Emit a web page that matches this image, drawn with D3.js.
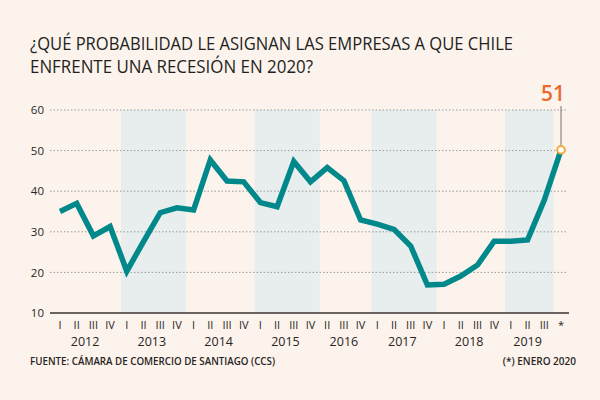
<!DOCTYPE html>
<html>
<head>
<meta charset="utf-8">
<script src="https://cdn.jsdelivr.net/npm/d3@7"></script>
<style>
  html, body { margin: 0; padding: 0; background: #fcf3ed; }
  svg { display: block; }
  text { font-family: "Open Sans", "DejaVu Sans", sans-serif; }
</style>
</head>
<body>
<div id="chart"></div>
<script>
// ---- data ----
const titleLines = ["¿QUÉ PROBABILIDAD LE ASIGNAN LAS EMPRESAS A QUE CHILE", "ENFRENTE UNA RECESIÓN EN 2020?"];
const quarterLabels = ["I","II","III","IV","I","II","III","IV","I","II","III","IV","I","II","III","IV",
                       "II","III","IV","I","II","III","IV","I","II","III","IV","I","II","III","*"];
const values = [35.0, 37.0, 29.0, 31.3, 20.3, 27.6, 34.7, 35.9, 35.4, 47.7,
                42.5, 42.3, 37.2, 36.2, 47.3, 42.3, 45.8, 42.6, 32.9, 31.9,
                30.6, 26.5, 16.9, 17.1, 19.1, 21.8, 27.7, 27.7, 28.0, 37.8, 50.2];
const years = ["2012","2013","2014","2015","2016","2017","2018","2019"];
const yearFirstIndex = [0, 4, 8, 12, 16, 19, 23, 27];
const yearLastIndex  = [3, 7, 11, 15, 18, 22, 26, 29];
const shadedYears = ["2013","2015","2017","2019"];
const yTicks = [10, 20, 30, 40, 50, 60];
const lastLabel = "51";
const sourceText = "FUENTE: CÁMARA DE COMERCIO DE SANTIAGO (CCS)";
const noteText = "(*) ENERO 2020";

// ---- layout ----
const W = 600, H = 400;
const svg = d3.select("#chart").append("svg").attr("width", W).attr("height", H);
svg.append("rect").attr("width", W).attr("height", H).attr("fill", "#fcf3ed");

const x = d3.scalePoint().domain(d3.range(values.length)).range([60, 561]);
const step = x.step();
const y = d3.scaleLinear().domain([10, 60]).range([313, 110]);

// title (one text element, two lines)
const title = svg.append("text").attr("font-size", 18)
  .attr("font-family", "Roboto, 'Open Sans', sans-serif").attr("fill", "#231f1c");
const titleWidths = [483, 283];
titleLines.forEach((t, i) => {
  title.append("tspan").attr("x", 30).attr("y", 49.5 + i * 23.5)
    .attr("textLength", titleWidths[i]).attr("lengthAdjust", "spacingAndGlyphs").text(t);
});

// shaded year bands
years.forEach((yr, i) => {
  if (!shadedYears.includes(yr)) return;
  const x0 = x(yearFirstIndex[i]) - step * 0.35;
  const x1 = x(yearLastIndex[i]) + step * 0.55;
  svg.append("rect").attr("x", x0).attr("y", y(60)).attr("width", x1 - x0)
    .attr("height", y(10) - y(60)).attr("fill", "#e8edee");
});

// grid + y labels
yTicks.forEach(t => {
  if (t !== 10) {
    svg.append("line").attr("x1", 50).attr("x2", 568).attr("y1", y(t)).attr("y2", y(t))
      .attr("stroke", "#9a9a9a").attr("stroke-width", 1).attr("stroke-dasharray", "1.5,2");
  }
  svg.append("text").attr("x", 44).attr("y", y(t)).attr("dy", "0.36em")
    .attr("text-anchor", "end").attr("font-size", 11.5).attr("fill", "#2a2522").text(t);
});
svg.append("line").attr("x1", 50).attr("x2", 569).attr("y1", y(10)).attr("y2", y(10))
  .attr("stroke", "#3a3330").attr("stroke-width", 1.5);

// x quarter labels
svg.selectAll("text.q").data(quarterLabels).enter().append("text").attr("class", "q")
  .attr("x", (d, i) => x(i)).attr("y", 329).attr("text-anchor", "middle")
  .attr("font-size", 11).attr("fill", "#2a2522").text(d => d);

// year labels
years.forEach((yr, i) => {
  svg.append("text").attr("x", (x(yearFirstIndex[i]) + x(yearLastIndex[i])) / 2)
    .attr("y", 346).attr("text-anchor", "middle").attr("font-size", 12.5)
    .attr("fill", "#2a2522").text(yr);
});

// line
const line = d3.line().x((d, i) => x(i)).y(d => y(d));
svg.append("path").datum(values).attr("d", line).attr("fill", "none")
  .attr("stroke", "#00888a").attr("stroke-width", 5.5).attr("stroke-linejoin", "miter")
  .attr("stroke-linecap", "butt");

// annotation
const li = values.length - 1;
svg.append("line").attr("x1", x(li)).attr("x2", x(li)).attr("y1", 106).attr("y2", y(values[li]) - 4)
  .attr("stroke", "#7a7370").attr("stroke-width", 1);
svg.append("circle").attr("cx", x(li)).attr("cy", y(values[li])).attr("r", 3.8)
  .attr("fill", "#ffffff").attr("stroke", "#f2ab3c").attr("stroke-width", 2);
svg.append("text").attr("x", x(li) + 4).attr("y", 101).attr("text-anchor", "end")
  .attr("font-size", 21).attr("font-weight", 600).attr("fill", "#ea6a2c").text(lastLabel);

// footer
svg.append("text").attr("x", 30).attr("y", 365).attr("font-size", 10).attr("font-weight", 600)
  .attr("fill", "#2a2522").attr("textLength", 245).attr("lengthAdjust", "spacingAndGlyphs")
  .text(sourceText);
svg.append("text").attr("x", 576).attr("y", 365).attr("text-anchor", "end").attr("font-size", 10)
  .attr("font-weight", 600).attr("fill", "#2a2522").text(noteText);
</script>
</body>
</html>
